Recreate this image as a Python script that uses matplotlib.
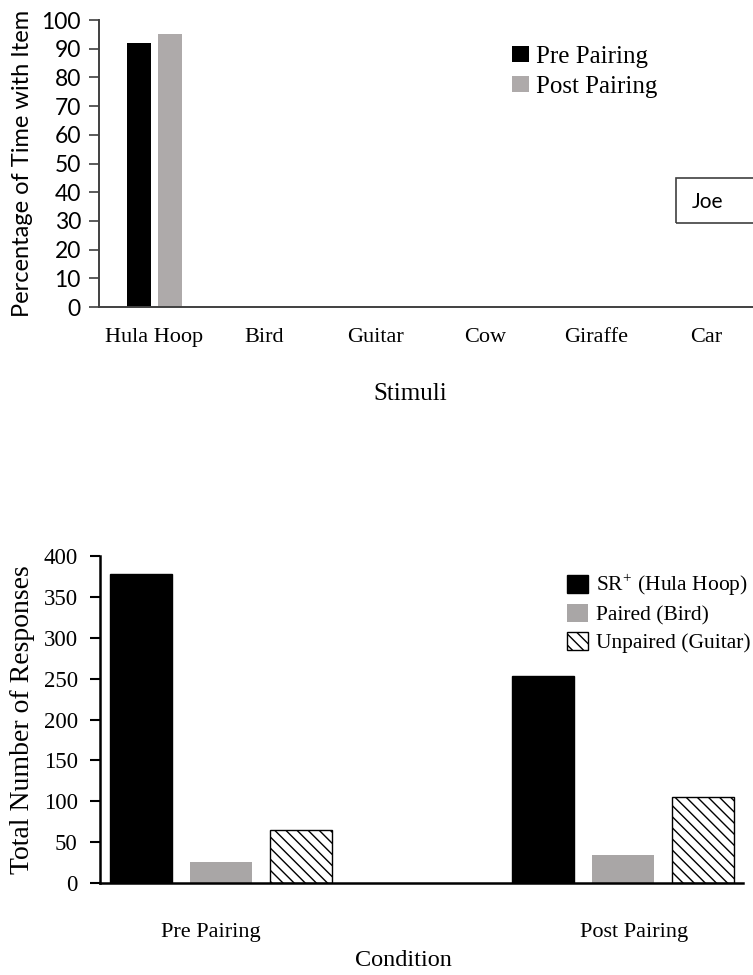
import numpy as np
import matplotlib
matplotlib.use('Agg')
import matplotlib.pyplot as plt
from matplotlib.patches import Rectangle

plt.rcParams['mathtext.fontset'] = 'stix'
plt.rcParams['hatch.linewidth'] = 1.0

SERIF = 'Liberation Serif'
SANS = 'Lato'

# top chart: percentage of time with item
stimuli = ['Hula Hoop', 'Bird', 'Guitar', 'Cow', 'Giraffe', 'Car']
pre_pct = [92, 0, 0, 0, 0, 0]
post_pct = [95, 0, 0, 0, 0, 0]

# bottom chart: total number of responses
conditions = ['Pre Pairing', 'Post Pairing']
sr_hula = [378, 253]
paired_bird = [26, 34]
unpaired_guitar = [65, 105]

W, H = 753, 975
fig = plt.figure(figsize=(W / 100, H / 100), dpi=100)

# ---------------- top chart ----------------
ax1 = fig.add_axes([99 / W, 1 - 307 / H, 1 - 99 / W, (307 - 20) / H])
x = np.arange(len(stimuli))
ax1.bar(x - 0.136, pre_pct, width=0.217, color='black', label='Pre Pairing')
ax1.bar(x + 0.14, post_pct, width=0.217, color='#aeaaaa', label='Post Pairing')
ax1.set_xlim(-0.5, -0.5 + (W - 99) / 110.4)
ax1.set_ylim(0, 100)
ax1.set_yticks(np.arange(0, 101, 10))
ax1.set_xticks(x)
ax1.set_xticklabels(stimuli, family=SERIF, fontsize=16)
for lbl in ax1.get_yticklabels():
    lbl.set_family(SANS)
    lbl.set_fontsize(16.5)
ax1.tick_params(axis='x', length=0, pad=15)
ax1.tick_params(axis='y', length=7, width=1.2, color='#404040', pad=6)
for s in ['top', 'right']:
    ax1.spines[s].set_visible(False)
for s in ['left', 'bottom']:
    ax1.spines[s].set_color('#404040')
    ax1.spines[s].set_linewidth(1.4)
ax1.set_ylabel('Percentage of Time with Item', family=SANS, fontsize=17)
ax1.yaxis.set_label_coords((33 - 99) / (W - 99), 0.5)
ax1.set_xlabel('Stimuli', family=SERIF, fontsize=18)
ax1.xaxis.set_label_coords((410 - 99) / (W - 99), -0.265)
ax1.legend(loc='upper left', bbox_to_anchor=(512 / W, 1 - 46 / H),
           bbox_transform=fig.transFigure, frameon=False,
           prop={'family': SERIF, 'size': 18}, borderpad=0, borderaxespad=0,
           handlelength=0.68, handleheight=0.6, handletextpad=0.28,
           labelspacing=0.3)

# name box, cut off at the right edge
fig.patches.append(Rectangle((676 / W, 1 - 223 / H), 100 / W, 45 / H,
                             transform=fig.transFigure, fill=False,
                             edgecolor='#404040', linewidth=1.2))
fig.text(692 / W, 1 - 202 / H, 'Joe', family=SANS, fontsize=15,
         ha='left', va='center')

# ---------------- bottom chart ----------------
ax2 = fig.add_axes([100 / W, 1 - 883 / H, (743 - 100) / W, (883 - 556) / H])
g = np.arange(len(conditions))
bw = 0.154
ax2.bar(g - 0.2, sr_hula, width=bw, color='black', edgecolor='black',
        label=r'SR$^{\mathregular{+}}$ (Hula Hoop)')
ax2.bar(g, paired_bird, width=bw, color='#a9a6a6', label='Paired (Bird)')
ax2.bar(g + 0.2, unpaired_guitar, width=bw, color='white', edgecolor='black',
        hatch='\\\\\\', linewidth=1.0, label='Unpaired (Guitar)')
ax2.set_xlim(-0.301, 1.2985)
ax2.set_ylim(0, 400)
ax2.set_yticks(np.arange(0, 401, 50))
# the category texts sit a little off the group centres in the original
ax2.set_xticks(g + np.array([-0.025, 0.028]))
ax2.set_xticklabels(conditions, family=SERIF, fontsize=16)
for lbl in ax2.get_yticklabels():
    lbl.set_family(SERIF)
    lbl.set_fontsize(16.5)
ax2.tick_params(axis='x', length=0, pad=29)
ax2.tick_params(axis='y', length=7, width=1.5, color='black', pad=9)
for s in ['top', 'right']:
    ax2.spines[s].set_visible(False)
for s in ['left', 'bottom']:
    ax2.spines[s].set_color('black')
    ax2.spines[s].set_linewidth(1.8)
ax2.set_ylabel('Total Number of Responses', family=SERIF, fontsize=20)
ax2.yaxis.set_label_coords((35 - 100) / (743 - 100), 0.5)
ax2.set_xlabel('Condition', family=SERIF, fontsize=17.5)
ax2.xaxis.set_label_coords((403 - 100) / (743 - 100), -0.205)
ax2.legend(loc='upper left', bbox_to_anchor=(567 / W, 1 - 572 / H),
           bbox_transform=fig.transFigure, frameon=False,
           prop={'family': SERIF, 'size': 15.5}, borderpad=0, borderaxespad=0,
           handlelength=0.98, handleheight=0.92, handletextpad=0.36,
           labelspacing=0.28)

fig.savefig('out.png', dpi=100)
